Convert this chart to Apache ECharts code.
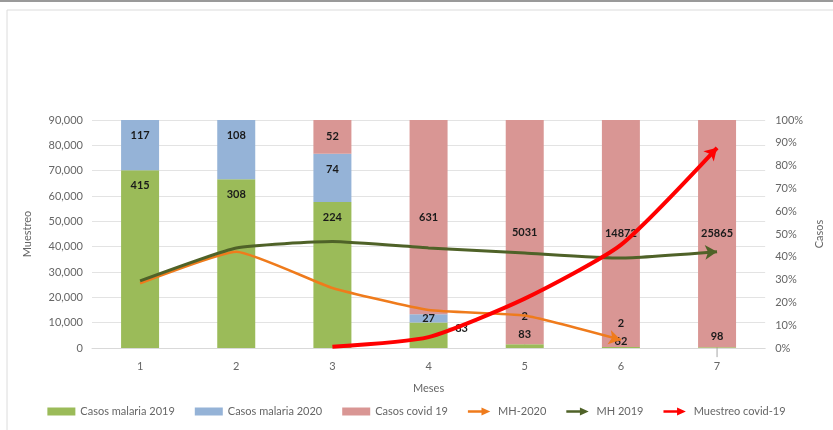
<!DOCTYPE html>
<html>
<head>
<meta charset="utf-8">
<script src="https://cdn.jsdelivr.net/npm/echarts@6/dist/echarts.min.js"></script>
<style>
html,body{margin:0;padding:0;background:#fff}
#main_charts{width:833px;height:430px}
</style>
</head>
<body>
<div id="main_charts"></div>
<script>
var meses = ['1','2','3','4','5','6','7'];
var casos2019 = [415,308,224,83,83,62,98];
var casos2020 = [117,108,74,27,2,2,0];
var casosCovid = [0,0,52,631,5031,14872,25865];
var mh2020 = [25500,38000,23700,15000,12800,3200,null];
var mh2019 = [26500,39500,42000,39500,37500,35500,38000];
var muestreoCovid = [null,null,500,4300,19500,40700,79000];

var myChart = echarts.init(document.getElementById('main_charts'));
var fuente = 'Lato';

var totales = [];
for (var i = 0; i < meses.length; i++) {
  totales.push(casos2019[i] + casos2020[i] + casosCovid[i]);
}
// ajustes de etiquetas pequeñas (desplazamientos en pixeles)
var movs = {
  '0-3': {dx:33, dy:-7},
  '0-4': {dx:0, dy:-12},
  '0-5': {dx:0, dy:-6},
  '0-6': {dx:0, dy:-11},
  '1-3': {dx:0, dy:0},
  '1-4': {dx:0, dy:-28},
  '1-5': {dx:0, dy:-24}
};
function pct(arr, s){
  var r = [];
  for (var i = 0; i < arr.length; i++) {
    var v = arr[i] / totales[i] * 100;
    if (movs[s + '-' + i]) r.push({value:v, label:{position:'inside'}});
    else r.push(v);
  }
  return r;
}
function etiqueta(arr){
  return function(p){ return arr[p.dataIndex] ? String(arr[p.dataIndex]) : ''; };
}
function mover(p){
  var m = movs[p.seriesIndex + '-' + p.dataIndex];
  if (m) return {dx:m.dx, dy:m.dy};
  return {};
}
var lblBase = {show:true, color:'#1a1a1a', fontWeight:'bold', fontSize:11, fontFamily:fuente};

function flecha(arr, rot){
  var d = arr.slice();
  for (var i = d.length - 1; i >= 0; i--) {
    if (d[i] != null) {
      d[i] = {value:d[i], symbol:'arrow', symbolSize:[11,12], symbolRotate:rot};
      break;
    }
  }
  return d;
}
var iconoFlecha = 'path://M0,3.5 L17,3.5 L17,0 L28,5 L17,10 L17,6.5 L0,6.5 Z';

var option = {
  animation:false,
  textStyle:{fontFamily:fuente},
  graphic:[
    {type:'line', shape:{x1:0,y1:1,x2:833,y2:1}, style:{stroke:'#9a9a9a', lineWidth:2}},
    {type:'rect', shape:{x:7,y:10,width:900,height:500}, style:{fill:'none', stroke:'#dcdcdc', lineWidth:1}}
  ],
  legend:{
    top:401, left:'center', itemWidth:28, itemHeight:8, itemGap:20,
    textStyle:{color:'#666', fontSize:11, fontFamily:fuente},
    data:[
      {name:'Casos malaria 2019', icon:'rect'},
      {name:'Casos malaria 2020', icon:'rect'},
      {name:'Casos covid 19', icon:'rect'},
      {name:'MH-2020', icon:iconoFlecha},
      {name:'MH 2019', icon:iconoFlecha},
      {name:'Muestreo covid-19', icon:iconoFlecha}
    ]
  },
  grid:{left:92, right:63, top:120, bottom:82},
  xAxis:[{
    type:'category', data:meses,
    name:'Meses', nameLocation:'middle', nameGap:35,
    nameTextStyle:{color:'#666', fontSize:11},
    axisLine:{lineStyle:{color:'#d9d9d9'}},
    axisTick:{show:false},
    axisLabel:{color:'#666', fontSize:11, margin:13}
  }],
  yAxis:[{
    type:'value', min:0, max:90000, interval:10000,
    name:'Muestreo', nameLocation:'middle', nameGap:59,
    nameTextStyle:{color:'#666', fontSize:11},
    axisLabel:{color:'#666', fontSize:11, margin:9,
      formatter:function(v){ return v.toLocaleString('en-US'); }},
    splitLine:{lineStyle:{color:'#e3e3e3'}},
    axisLine:{show:false}, axisTick:{show:false}
  },{
    type:'value', min:0, max:100, interval:10,
    name:'Casos', nameLocation:'middle', nameGap:48,
    nameTextStyle:{color:'#666', fontSize:11},
    axisLabel:{color:'#666', fontSize:11, margin:10, formatter:'{value}%'},
    splitLine:{show:false}, axisLine:{show:false}, axisTick:{show:false}
  }],
  series:[
    {name:'Casos malaria 2019', type:'bar', stack:'c', yAxisIndex:1, barWidth:38,
     itemStyle:{color:'#9bbb59'}, data:pct(casos2019, 0),
     label:Object.assign({}, lblBase, {position:'insideTop', distance:10, formatter:etiqueta(casos2019)}),
     labelLine:{show:true, lineStyle:{color:'#a6a6a6', width:1}}, labelLayout:mover},
    {name:'Casos malaria 2020', type:'bar', stack:'c', yAxisIndex:1, barWidth:38,
     itemStyle:{color:'#95b3d7'}, data:pct(casos2020, 1),
     label:Object.assign({}, lblBase, {position:'insideTop', distance:10, formatter:etiqueta(casos2020)}),
     labelLine:{show:true, lineStyle:{color:'#a6a6a6', width:1}}, labelLayout:mover},
    {name:'Casos covid 19', type:'bar', stack:'c', yAxisIndex:1, barWidth:38,
     itemStyle:{color:'#d99694'}, data:pct(casosCovid, 2),
     label:Object.assign({}, lblBase, {position:'inside', formatter:etiqueta(casosCovid)})},
    {name:'MH-2020', type:'line', yAxisIndex:0, smooth:0.15, symbol:'none', showSymbol:true,
     itemStyle:{color:'#ef7b1c'}, lineStyle:{color:'#ef7b1c', width:2.5},
     data:flecha(mh2020, -103)},
    {name:'MH 2019', type:'line', yAxisIndex:0, smooth:0.15, symbol:'none', showSymbol:true,
     itemStyle:{color:'#4f6228'}, lineStyle:{color:'#4f6228', width:3},
     data:flecha(mh2019, -87)},
    {name:'Muestreo covid-19', type:'line', yAxisIndex:0, smooth:0.2, symbol:'none', showSymbol:true,
     itemStyle:{color:'#ff0000'}, lineStyle:{color:'#ff0000', width:4},
     data:flecha(muestreoCovid, -45)}
  ]
};

myChart.setOption(option);
</script>
</body>
</html>
